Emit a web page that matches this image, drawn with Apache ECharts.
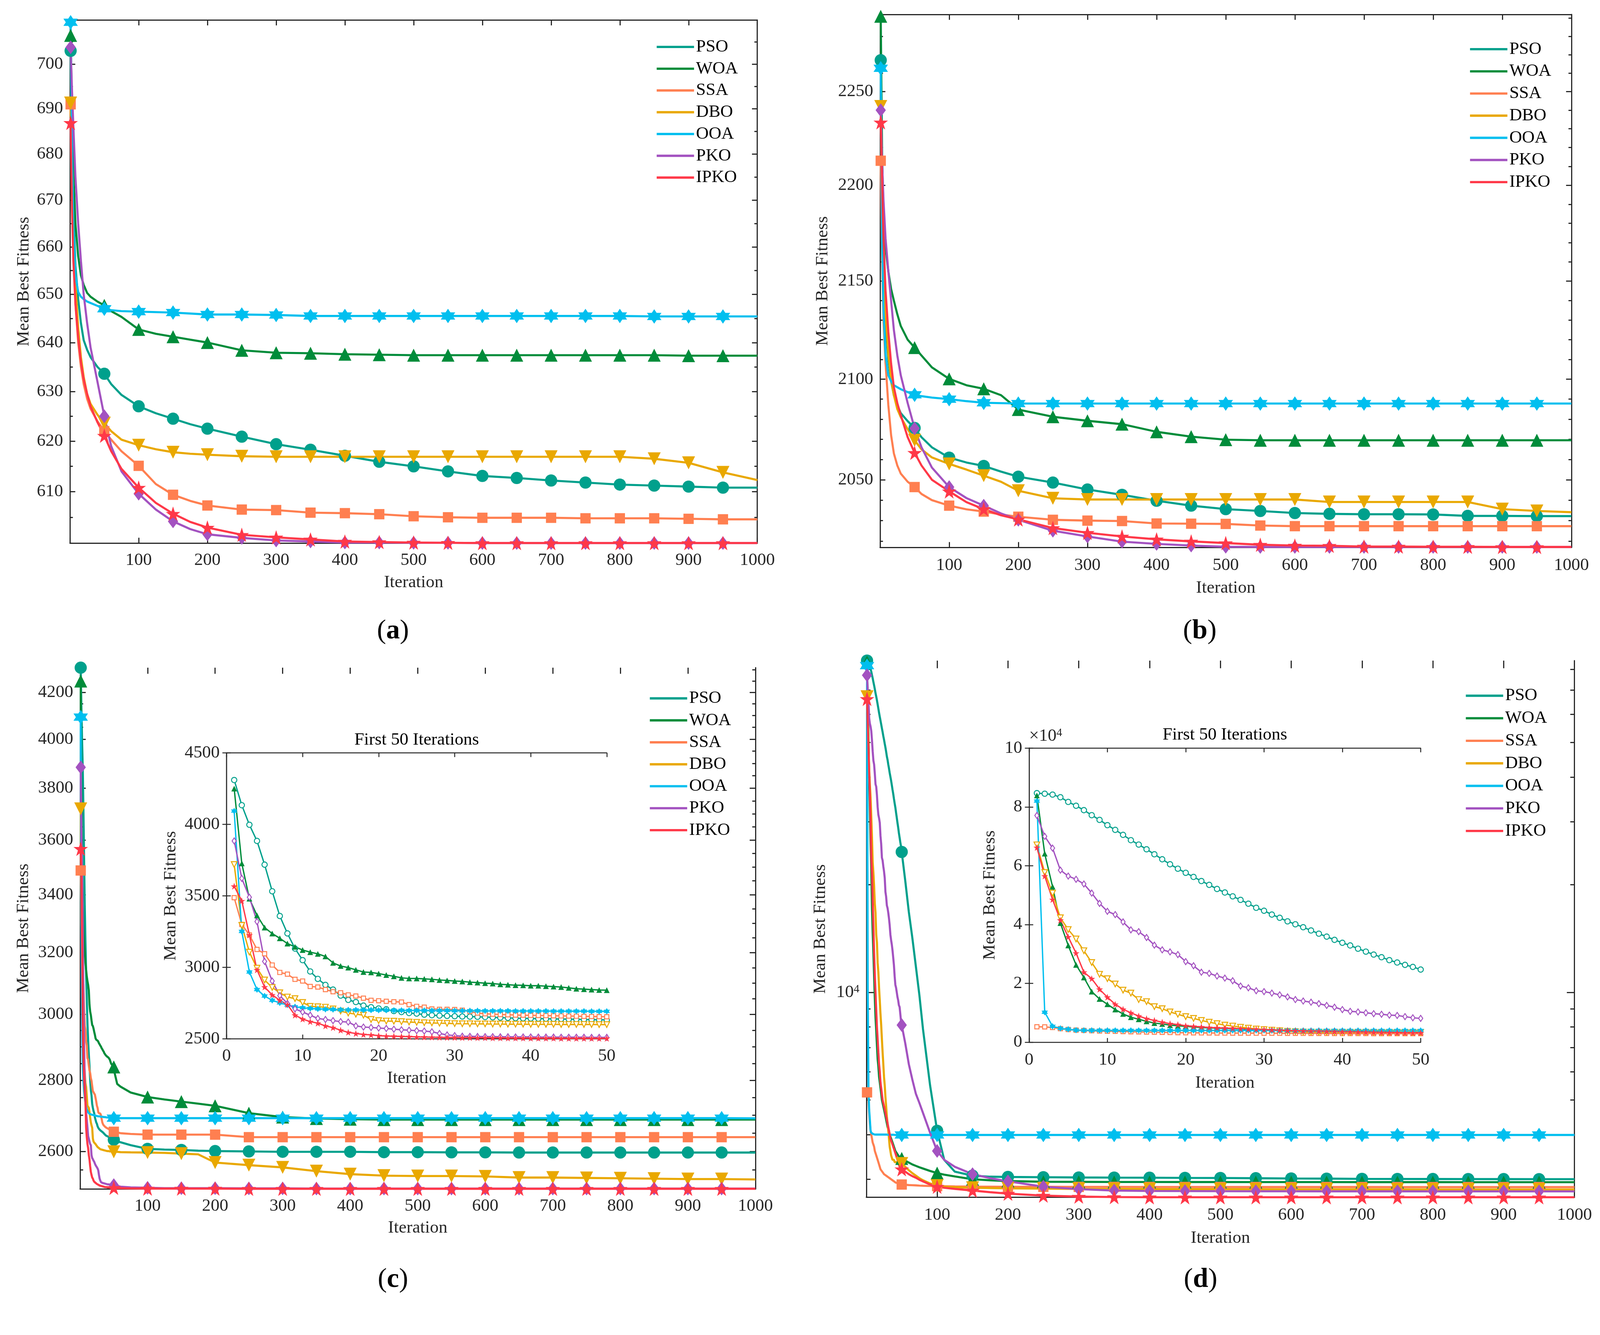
<!DOCTYPE html>
<html><head><meta charset="utf-8">
<script src="https://cdn.jsdelivr.net/npm/echarts@6/dist/echarts.min.js"></script>
<style>html,body{margin:0;padding:0;background:#fff;overflow:hidden}</style>
</head><body><div id="c"></div>
<script>
const names = ['PSO','WOA','SSA','DBO','OOA','PKO','IPKO'];
const colors = ['#00A08C','#008C3A','#FF7F50','#E9A800','#00BFEF','#A352C0','#FF3848'];

// ---------- panel (a) ----------
const iterA = [1,3,5,8,12,16,20,25,30,40,50,60,75,100,125,150,175,200,250,300,350,400,450,500,550,600,650,700,750,800,850,900,950,1000];
const psoA  = [703,682,668,656,649,644,640.5,638.5,637,635,633.6,631.5,629.3,627.0,625.6,624.5,623.4,622.5,620.9,619.4,618.3,617.1,615.9,615.0,614.0,613.1,612.7,612.2,611.8,611.4,611.2,611.0,610.8,610.8];
const woaA  = [706.5,690,676,665,658,654,652,650.3,649.5,648.5,647.7,646.5,645.3,642.7,641.8,641.2,640.6,640.0,638.4,637.9,637.8,637.6,637.5,637.4,637.4,637.4,637.4,637.4,637.4,637.4,637.4,637.3,637.3,637.3];
const ssaA  = [691,672,660,648,640,635,631.5,628.5,626.5,624,622.0,620.3,618,615.1,611.5,609.4,608.2,607.3,606.5,606.4,605.9,605.8,605.6,605.2,605.0,604.9,604.9,604.9,604.8,604.8,604.8,604.7,604.6,604.6];
const dboA  = [691.3,676,664,652,643,637,633,629.5,627.5,625.3,623.6,622,620.3,619.2,618.4,617.8,617.5,617.3,617.0,616.9,616.9,616.9,616.9,616.9,616.9,616.9,616.9,616.9,616.9,616.9,616.5,615.7,613.8,612.3];
const ooaA  = [709.5,680,664,654,650.5,649.5,649,648.5,648.2,647.6,647.0,646.7,646.5,646.4,646.3,646.2,646.0,645.8,645.8,645.7,645.5,645.5,645.5,645.5,645.5,645.5,645.5,645.5,645.5,645.5,645.4,645.4,645.4,645.4];
const pkoA  = [703.8,694,686,675,665,657,650,644,639,632,625.0,619,614,609.6,606.5,604.2,602.7,601.7,601.0,600.5,600.3,600.1,600.1,600.05,600.05,600.0,600.0,600.0,600.0,600.0,600.0,600.0,600.0,600.0];
const ipkoA = [686.9,668,657,648,641,636,632.5,629.5,627,623.8,621.1,618,614.5,610.8,607.8,605.7,604.1,603.0,601.6,601.1,600.7,600.3,600.2,600.1,600.05,600.0,600.0,600.0,600.0,600.0,600.0,600.0,600.0,600.0];

// ---------- panel (b) ----------
const iterB = iterA;
const psoB  = [2267,2205,2160,2128,2110,2099,2092,2087,2083,2079,2075.6,2071,2066,2060.9,2058.5,2056.8,2054,2051.5,2048.6,2045.2,2042.6,2039.7,2037.3,2035.6,2034.7,2033.7,2033.3,2033.1,2033.1,2033.0,2032.3,2032.3,2032.2,2032.2];
const woaB  = [2291,2215,2185,2167,2155,2146,2140,2133,2127,2120,2116,2112,2106,2100.2,2097,2095.2,2092,2084.8,2081.2,2079.2,2077.5,2073.7,2071.3,2069.8,2069.5,2069.5,2069.5,2069.5,2069.5,2069.5,2069.5,2069.5,2069.5,2069.5];
const ssaB  = [2213,2160,2130,2108,2087,2072,2063,2057,2053,2049,2046.4,2043,2040,2037.3,2035.5,2034.4,2033,2031.9,2030.4,2030.0,2029.8,2028.6,2028.5,2028.4,2027.6,2027.3,2027.3,2027.3,2027.3,2027.3,2027.3,2027.3,2027.3,2027.3];
const dboB  = [2242,2190,2160,2133,2113,2100,2092,2085,2081,2075,2069.5,2065,2061,2057.8,2055,2052.0,2049,2044.6,2040.9,2040.3,2040.3,2040.3,2040.3,2040.3,2040.3,2040.3,2039.1,2039.1,2039.1,2039.1,2039.1,2035.6,2034.7,2034.1];
const ooaB  = [2262.6,2170,2135,2112,2102,2099,2097,2096,2095,2093.5,2092.2,2091.5,2090.8,2090.0,2089,2088.2,2088,2087.8,2087.8,2087.8,2087.8,2087.8,2087.8,2087.8,2087.8,2087.8,2087.8,2087.8,2087.8,2087.8,2087.8,2087.8,2087.8,2087.8];
const pkoB  = [2240,2212,2192,2172,2155,2140,2125,2112,2102,2088,2075.4,2066,2056,2046.4,2041,2037.3,2033.5,2030.4,2025.1,2022.3,2019.8,2018.7,2017.9,2017.3,2017.2,2017.2,2017.2,2017.2,2017.2,2017.2,2017.2,2017.2,2017.2,2017.2];
const ipkoB = [2233.5,2200,2172,2145,2124,2108,2096,2088,2082,2071,2063.3,2057,2050,2044.3,2039,2035.6,2032.6,2030.6,2026.4,2024.1,2022.3,2020.9,2019.9,2019.1,2018.3,2017.9,2017.8,2017.4,2017.4,2017.3,2017.3,2017.2,2017.2,2017.2];

// ---------- first 50 iterations (shared x) ----------
const iter50 = Array.from({length:50},(_,i)=>i+1);

// ---------- panel (c) ----------
const psoC50  = [4310,4134,3997,3884,3718,3532,3359,3237,3131,3050,2971,2919,2877,2844,2802,2772,2757,2732,2721,2712,2706,2694,2687,2680,2676,2669,2665,2662,2660,2658,2656,2655,2654,2652,2650,2648,2646,2644,2643,2642,2641,2640,2639,2638,2637,2636,2635,2634,2633,2632];
const woaC50  = [4250,3727,3480,3363,3278,3236,3203,3166,3143,3121,3106,3094,3076,3031,3009,2998,2982,2967,2964,2956,2946,2937,2926,2922,2922,2919,2916,2911,2908,2904,2901,2896,2893,2889,2886,2881,2878,2875,2874,2871,2871,2868,2865,2862,2856,2850,2847,2844,2841,2840];
const ssaC50  = [3487,3300,3226,3125,3095,3016,2964,2952,2916,2904,2866,2862,2844,2829,2822,2807,2799,2784,2769,2766,2762,2759,2757,2739,2727,2721,2709,2706,2706,2705,2700,2690,2680,2675,2672,2670,2668,2666,2665,2664,2663,2662,2661,2660,2659,2658,2657,2656,2655,2654];
const dboC50  = [3719,3293,3106,2994,2911,2859,2822,2792,2781,2754,2727,2724,2721,2709,2694,2680,2672,2665,2635,2627,2624,2623,2620,2617,2615,2612,2611,2609,2608,2606,2605,2605,2604,2604,2603,2603,2602,2602,2602,2601,2601,2601,2601,2600,2600,2600,2600,2600,2599,2599];
const ooaC50  = [4093,3251,2967,2844,2799,2769,2751,2736,2724,2717,2712,2709,2706,2705,2703,2702,2702,2701,2701,2700,2700,2699,2699,2698,2698,2698,2697,2697,2697,2696,2696,2696,2696,2695,2695,2695,2695,2694,2694,2694,2694,2694,2693,2693,2693,2693,2693,2692,2692,2692];
const pkoC50  = [3884,3622,3490,3320,3041,2904,2802,2747,2709,2687,2665,2642,2635,2627,2620,2617,2590,2582,2579,2575,2572,2567,2563,2560,2557,2554,2549,2537,2527,2522,2518,2517,2516,2515,2515,2514,2514,2513,2513,2513,2512,2512,2512,2511,2511,2511,2511,2510,2510,2510];
const ipkoC50 = [3567,3465,3226,2982,2862,2807,2769,2739,2665,2638,2620,2609,2590,2578,2560,2545,2537,2530,2527,2522,2519,2518,2516,2515,2513,2512,2511,2510,2509,2509,2508,2508,2507,2507,2506,2506,2505,2505,2505,2504,2504,2504,2504,2503,2503,2503,2503,2503,2503,2503];
const iterCT  = [55,60,75,100,125,150,175,200,250,300,350,400,450,500,550,600,650,700,750,800,850,900,950,1000];
const psoCT   = [2628,2625,2617,2607,2605,2604,2602,2601,2600,2599,2599,2599,2598,2598,2597.5,2597.5,2597,2597,2597,2597,2597,2597,2597,2597];
const woaCT   = [2790,2782,2765,2752,2745,2739,2733,2727,2706,2695,2691,2689,2688,2688,2688,2688,2688,2688,2688,2688,2688,2688,2688,2688];
const ssaCT   = [2652,2650,2648,2646,2646,2646,2646,2646,2639,2639,2639,2639,2639,2639,2639,2639,2639,2639,2639,2639,2639,2639,2639,2639];
const dboCT   = [2599,2598,2597.5,2597,2596,2594,2592,2570,2563,2557,2547,2539,2535,2534,2534,2533,2530,2530,2529,2528,2527,2526,2526,2525];
const ooaCT   = [2692,2692,2692,2692,2692,2692,2692,2692,2692,2692,2692,2692,2692,2692,2692,2692,2692,2692,2692,2692,2692,2692,2692,2691.5];
const pkoCT   = [2508,2506,2504,2503,2502,2502,2502,2502,2501.5,2501.5,2501,2501,2501,2501,2501,2501,2501,2501,2501,2501,2501,2501,2501,2501];
const ipkoCT  = [2502,2502,2501.5,2501,2501,2501,2501,2501,2500.5,2500.5,2500.5,2500.5,2500.5,2500.5,2500.5,2500.5,2500.5,2500.5,2500.5,2500.5,2500.5,2500.5,2500.5,2500.5];

// ---------- panel (d) ----------
const psoD50  = [84700,84500,84200,83300,81700,80400,78900,77200,75600,73800,72200,70500,68700,67200,65600,63900,62200,60500,59000,57600,56200,54800,53500,52100,50900,49600,48400,47100,45700,44700,43400,42300,41100,40100,39100,38000,36900,35900,34800,33800,32900,31800,30800,29800,28900,27900,27100,26300,25600,24700];
const woaD50  = [83900,64100,52900,40500,32900,26300,22000,17200,14700,12900,11100,9600,8500,7800,7100,6500,6200,5800,5600,5400,5200,5000,4900,4800,4700,4600,4500,4400,4300,4200,4150,4100,4000,3950,3900,3850,3800,3750,3700,3650,3600,3600,3550,3550,3500,3500,3450,3450,3450,3430];
const ssaD50  = [5250,5200,5000,4600,4300,4100,4000,3900,3800,3750,3700,3600,3550,3500,3450,3400,3350,3300,3250,3200,3180,3160,3140,3120,3100,3090,3080,3070,3060,3050,3040,3030,3020,3010,3000,2990,2980,2970,2960,2950,2940,2930,2930,2920,2920,2910,2910,2900,2900,2900];
const dboD50  = [67100,57700,50700,42300,38300,35100,31100,27100,23100,21600,19800,17700,16700,14500,13800,12100,11400,10300,9500,8700,8100,7400,6800,6300,5800,5500,5100,4800,4500,4300,4100,3900,3700,3600,3500,3450,3400,3400,3400,3350,3350,3350,3350,3330,3330,3330,3330,3330,3320,3320];
const ooaD50  = [82000,10200,5400,4700,4400,4100,4050,4030,4020,4010,4005,4000,4000,4000,4000,4000,4000,4000,4000,4000,4000,4000,4000,4000,4000,4000,4000,4000,4000,4000,3995,3995,3995,3995,3995,3995,3995,3995,3995,3995,3990,3990,3990,3990,3990,3990,3990,3990,3990,3990];
const pkoD50  = [77100,70000,66000,58500,56500,55400,53800,50700,47200,44500,43400,40900,38200,37600,35600,33000,31400,30700,29800,27400,26000,23800,23400,22500,21800,20900,19100,18500,17500,17200,16700,16100,15400,14500,14000,13600,13100,12500,11900,11100,10500,10300,10000,9700,9500,9200,9100,8700,8300,8100];
const ipkoD50 = [66200,56500,48500,41500,35800,30300,23800,21600,18000,15300,12900,11200,10000,8900,8000,7400,6800,6300,6000,5600,5400,5200,5000,4900,4800,4700,4600,4500,4400,4300,4200,4100,4000,3900,3850,3800,3750,3700,3650,3600,3550,3500,3450,3400,3350,3300,3250,3200,3200,3200];
const iterDT  = [55,60,65,70,75,80,90,100,110,125,150,175,200,250,300,350,400,450,500,550,600,650,700,750,800,850,900,950,1000];
const psoDT   = [20500,16800,14200,11800,9800,7900,5500,4100,3400,3150,3070,3050,3045,3040,3035,3032,3030,3027,3025,3020,3015,3012,3008,3006,3005,3004,3003,3002,3002];
const woaDT   = [3380,3340,3300,3270,3240,3215,3165,3122,3090,3055,3000,2980,2965,2952,2950,2948,2948,2947,2947,2946,2946,2946,2945,2945,2945,2944,2944,2944,2944];
const ssaDT   = [2895,2890,2887,2884,2880,2877,2873,2870,2868,2865,2862,2860,2858,2857,2856,2856,2855,2855,2855,2854,2854,2854,2854,2853,2853,2853,2853,2853,2853];
const dboDT   = [3250,3180,3120,3070,3020,2980,2920,2880,2860,2850,2840,2835,2830,2825,2820,2818,2816,2815,2814,2813,2812,2812,2811,2811,2810,2810,2810,2810,2810];
const ooaDT   = [3990,3990,3990,3990,3990,3990,3990,3990,3990,3990,3990,3990,3990,3990,3990,3990,3990,3990,3990,3990,3990,3990,3990,3990,3990,3990,3990,3990,3990];
const pkoDT   = [7200,6300,5700,5200,4900,4600,4050,3600,3400,3250,3100,3020,2960,2860,2815,2790,2782,2780,2778,2777,2777,2776,2776,2776,2775,2775,2775,2775,2775];
const ipkoDT  = [3150,3100,3060,3030,2990,2960,2900,2860,2840,2820,2790,2760,2735,2700,2683,2675,2672,2671,2671,2671,2671,2671,2671,2671,2671,2671,2671,2671,2671];

// ---------- tick labels ----------
const xTicksMain  = [100,200,300,400,500,600,700,800,900,1000];
const yMajorA = [610,620,630,640,650,660,670,680,690,700];
const yMinorA = [605,615,625,635,645,655,665,675,685,695,705];
const yMajorB = [2050,2100,2150,2200,2250];
const yMinorB = [2020,2030,2040,2060,2070,2080,2090,2110,2120,2130,2140,2160,2170,2180,2190,2210,2220,2230,2240,2260,2270,2280,2290];
const yMajorC = [2600,2800,3000,3200,3400,3600,3800,4000,4200];
const yMinorC = [2550,2650,2700,2750,2850,2900,2950,3050,3100,3150,3250,3300,3350,3450,3500,3550,3650,3700,3750,3850,3900,3950,4050,4100,4150,4250,4300];
const yMajorD = [10000];
const yMinorD = [3000,4000,5000,6000,7000,8000,9000,20000,30000,40000,50000,60000,70000,80000];

// ---------- layout scale (design is 4198 x 3417) ----------
const W0 = 4198, H0 = 3417;
let S = Math.min((window.innerWidth || W0) / W0, (window.innerHeight || H0) / H0);
if (!isFinite(S) || S <= 0) S = 1;
const p = v => v * S;
const el = document.getElementById('c');
el.style.width = p(W0) + 'px';
el.style.height = p(H0) + 'px';

// ---------- styling ----------
const FONT = 'Liberation Serif';
const AX = '#262626';
const HEX = 'path://M50,0L64.43,25L93.3,25L78.87,50L93.3,75L64.43,75L50,100L35.57,75L6.7,75L21.13,50L6.7,25L35.57,25Z';
const STAR = 'path://M50,0L61.8,35.3L98.9,35.3L68.9,57.1L80.3,92.4L50,70.6L19.7,92.4L31.1,57.1L1.1,35.3L38.2,35.3Z';
const symbols = ['circle','triangle','rect','triangle',HEX,'diamond',STAR];
const rotates = [0,0,0,180,0,0,0];
const mainSizes = [32,34,27,34,38,[27,36],38];
const insetSizes = [14,15,11,15,17,[11,16],18];
const hollowInset = [true,false,true,true,false,true,false];
const sz2 = s => Array.isArray(s) ? s.map(p) : p(s);
const txt = (sz, col) => ({fontFamily:FONT, fontSize:p(sz), color:col||AX});

const grids = [
  [183.5, 52.6, 1803.5, 1372],
  [2309, 38, 1814, 1398],
  [210, 1751.5, 1772, 1367.5],
  [2273, 1733, 1858, 1408],
  [594.5, 1975, 997.5, 750],
  [2700, 1962.5, 1027.5, 771.5]
].map(g => ({left:p(g[0]), top:p(g[1]), width:p(g[2]), height:p(g[3])}));

const xAxes = [], yAxes = [];
function mainX(g, topLine, tl, margin, gap) {
  const ln = {color:AX,width:p(3)};
  xAxes.push({type:'value', gridIndex:g, position:'bottom', min:0, max:1000, interval:100,
    axisLine:{show:true,onZero:false,lineStyle:ln},
    axisTick:{show:true,inside:true,length:p(tl),lineStyle:ln},
    axisLabel:{show:true,margin:p(margin),...txt(46),formatter:v=> xTicksMain.includes(v)?String(v):''},
    splitLine:{show:false},
    name:'Iteration', nameLocation:'middle', nameGap:p(gap), nameTextStyle:txt(46)});
  xAxes.push({type:'value', gridIndex:g, position:'top', min:0, max:1000, interval:100,
    axisLine:{show:topLine,onZero:false,lineStyle:ln},
    axisTick:{show:true,inside:true,length:p(tl),lineStyle:ln},
    axisLabel:{show:false}, splitLine:{show:false}});
}
function mainY(g, min, max, major, minor, gap, tl, fmt) {
  const base = {type:'log', logBase:10, gridIndex:g, min:min, max:max, splitLine:{show:false}};
  const ln = {color:AX,width:p(3)};
  yAxes.push({...base, position:'left', axisLine:{show:true,lineStyle:ln},
    axisTick:{show:true,inside:true,length:p(tl),customValues:major,lineStyle:ln},
    axisLabel:{show:true,customValues:major,margin:p(18),...txt(46),formatter:fmt,
      rich:{n:{fontFamily:FONT,fontSize:p(46),color:AX},s:{fontFamily:FONT,fontSize:p(30),color:AX,verticalAlign:'top'}}},
    name:'Mean Best Fitness', nameLocation:'middle', nameGap:p(gap), nameTextStyle:txt(46)});
  yAxes.push({...base, position:'left', axisLine:{show:false},
    axisTick:{show:true,inside:true,length:p(tl*0.55),customValues:minor,lineStyle:ln},
    axisLabel:{show:false}});
  yAxes.push({...base, position:'right', axisLine:{show:true,lineStyle:ln},
    axisTick:{show:true,inside:true,length:p(tl),customValues:major,lineStyle:ln},
    axisLabel:{show:false}});
  yAxes.push({...base, position:'right', axisLine:{show:false},
    axisTick:{show:true,inside:true,length:p(tl*0.55),customValues:minor,lineStyle:ln},
    axisLabel:{show:false}});
}
const intFmt = v => String(Math.round(v));
mainX(0, true, 14, 22, 81);  mainY(0, 600, 710, yMajorA, yMinorA, 98, 14, intFmt);
mainX(1, true, 14, 24, 84);  mainY(1, 2017, 2292, yMajorB, yMinorB, 127, 14, intFmt);
mainX(2, false, 16, 22, 79); mainY(2, 2500, 4310, yMajorC, yMinorC, 125, 15, intFmt);
mainX(3, false, 20, 24, 84); mainY(3, 2670, 84700, yMajorD, yMinorD, 97, 20, v => Math.round(v)===10000 ? '{n|10}{s|4}' : '');

function insetAxes(g, ymin, ymax, yint, fmt, ygap, xmargin, xgap) {
  const ln = {color:AX,width:p(2.5)};
  xAxes.push({type:'value', gridIndex:g, position:'bottom', min:0, max:50, interval:10,
    axisLine:{show:true,onZero:false,lineStyle:ln},
    axisTick:{show:true,inside:true,length:p(11),lineStyle:ln},
    axisLabel:{show:true,margin:p(xmargin),...txt(46)}, splitLine:{show:false},
    name:'Iteration', nameLocation:'middle', nameGap:p(xgap), nameTextStyle:txt(46)});
  xAxes.push({type:'value', gridIndex:g, position:'top', min:0, max:50, interval:10,
    axisLine:{show:true,onZero:false,lineStyle:ln},
    axisTick:{show:true,inside:true,length:p(11),lineStyle:ln},
    axisLabel:{show:false}, splitLine:{show:false},
    name:'First 50 Iterations', nameLocation:'middle', nameGap:p(11), nameTextStyle:txt(46,'#000')});
  yAxes.push({type:'value', gridIndex:g, position:'left', min:ymin, max:ymax, interval:yint,
    axisLine:{show:true,lineStyle:ln}, axisTick:{show:true,inside:true,length:p(11),lineStyle:ln},
    axisLabel:{show:true,margin:p(18),...txt(46),formatter:fmt}, splitLine:{show:false},
    name:'Mean Best Fitness', nameLocation:'middle', nameGap:p(ygap), nameTextStyle:txt(46)});
  yAxes.push({type:'value', gridIndex:g, position:'right', min:ymin, max:ymax, interval:yint,
    axisLine:{show:true,lineStyle:ln}, axisTick:{show:true,inside:true,length:p(11),lineStyle:ln},
    axisLabel:{show:false}, splitLine:{show:false}});
}
insetAxes(4, 2500, 4500, 500, v => String(v), 123, 22, 81);
insetAxes(5, 0, 100000, 20000, v => String(v/10000), 80, 24, 84);
// exponent label of inset (d)
yAxes.push({type:'value', gridIndex:5, position:'left', min:0, max:100000, interval:20000,
  axisLine:{show:false}, axisTick:{show:false}, axisLabel:{show:false}, splitLine:{show:false},
  name:'×10{s|4}', nameLocation:'end', nameGap:p(8),
  nameTextStyle:{fontFamily:FONT,fontSize:p(46),color:AX,align:'left',
    rich:{s:{fontFamily:FONT,fontSize:p(30),color:AX,verticalAlign:'top'}}}});

const series = [];
function addSeries(xs, ysList, xi, yi, inset) {
  ysList.forEach((ys, k) => {
    const c = colors[k];
    const sz = sz2(inset ? insetSizes[k] : mainSizes[k]);
    series.push({
      type:'line', name:names[k], xAxisIndex:xi, yAxisIndex:yi,
      data: xs.map((x,i)=>[x, ys[i]]),
      symbol: symbols[k], symbolRotate: rotates[k], symbolKeepAspect:false,
      symbolSize: inset ? sz : (v => (v[0]===1 || (v[0]%50===0 && v[0]<1000)) ? sz : 0),
      showSymbol:true, showAllSymbol:true, clip:true, silent:true, animation:false,
      lineStyle:{color:c, width: p(inset ? 3.5 : 5.5)},
      itemStyle: (inset && hollowInset[k]) ? {color:'#fff', borderColor:c, borderWidth:p(2.5)} : {color:c, borderWidth:0},
      emphasis:{disabled:true}
    });
  });
}
addSeries(iterA, [psoA,woaA,ssaA,dboA,ooaA,pkoA,ipkoA], 0, 0, false);
addSeries(iterB, [psoB,woaB,ssaB,dboB,ooaB,pkoB,ipkoB], 2, 4, false);
addSeries(iter50.concat(iterCT), [psoC50.concat(psoCT),woaC50.concat(woaCT),ssaC50.concat(ssaCT),dboC50.concat(dboCT),ooaC50.concat(ooaCT),pkoC50.concat(pkoCT),ipkoC50.concat(ipkoCT)], 4, 8, false);
addSeries(iter50.concat(iterDT), [psoD50.concat(psoDT),woaD50.concat(woaDT),ssaD50.concat(ssaDT),dboD50.concat(dboDT),ooaD50.concat(ooaDT),pkoD50.concat(pkoDT),ipkoD50.concat(ipkoDT)], 6, 12, false);
addSeries(iter50, [psoC50,woaC50,ssaC50,dboC50,ooaC50,pkoC50,ipkoC50], 8, 16, true);
addSeries(iter50, [psoD50,woaD50,ssaD50,dboD50,ooaD50,pkoD50,ipkoD50], 10, 18, true);

const legendPos = [[1718,95,11],[3852,101,12],[1700,1804,11.5],[3841,1797,13]];
const legends = legendPos.map(q => ({
  data:names, orient:'vertical', left:p(q[0]), top:p(q[1]), itemGap:p(q[2]), itemWidth:p(98), itemHeight:p(6),
  icon:'rect', selectedMode:false, padding:p(5),
  textStyle:{fontFamily:FONT, fontSize:p(46), color:'#000', lineHeight:p(46)}
}));

const panelLabels = [['a',1031,1656],['b',3148,1656],['c',1031,3357],['d',3150,3357]].map(q => ({
  type:'text', x:p(q[1]), y:p(q[2]),
  style:{text:'({b|'+q[0]+'})', fontFamily:FONT, fontSize:p(72), fill:'#000', align:'center', verticalAlign:'middle',
    rich:{b:{fontFamily:FONT, fontSize:p(72), fontWeight:'bold', fill:'#000'}}}
}));

const chart = echarts.init(el, null, {renderer:'canvas'});
chart.setOption({
  animation:false, backgroundColor:'#fff',
  grid: grids, xAxis: xAxes, yAxis: yAxes, series: series, legend: legends,
  graphic: panelLabels
});
</script></body></html>
